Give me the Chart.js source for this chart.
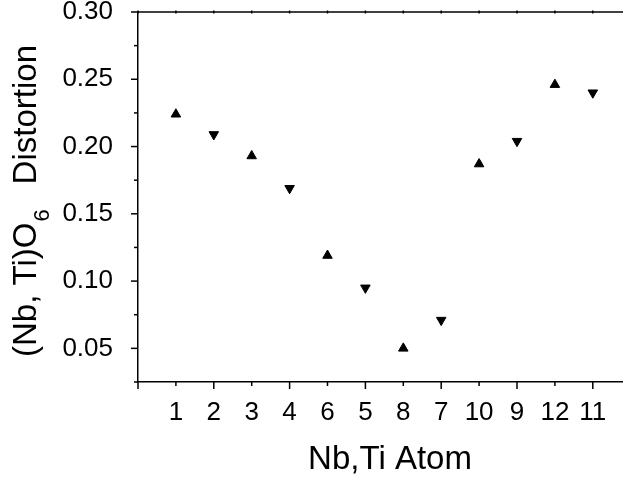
<!DOCTYPE html>
<html>
<head>
<meta charset="utf-8">
<script src="https://cdn.jsdelivr.net/npm/chart.js@4.4.1/dist/chart.umd.min.js"></script>
<style>
    html, body { margin: 0; padding: 0; background: #fff; overflow: hidden; }
    #wrap { width: 623px; height: 477px; overflow: hidden; }
</style>
</head>
<body>
<div id="wrap"><canvas id="distChart" width="630" height="477"></canvas></div>
<script>
// --- Data ---
const atomLabels = ["1", "2", "3", "4", "6", "5", "8", "7", "10", "9", "12", "11"];
const atomPositions = [1, 2, 3, 4, 5, 6, 7, 8, 9, 10, 11, 12];
const distortion = [0.224, 0.209, 0.193, 0.169, 0.119, 0.095, 0.050, 0.071, 0.187, 0.204, 0.246, 0.240];
const markerDir = ["up", "down", "up", "down", "up", "down", "up", "down", "up", "down", "up", "down"];

const yMin = 0.025;
const yMax = 0.30;
const yStep = 0.025;
const xMin = 0;
const xMax = 12.81;

const FONT = "'Liberation Sans', Arial, Helvetica, sans-serif";

// --- Custom drawing: tick marks of two lengths, top frame line, axis titles ---
const axisDecor = {
    id: "axisDecor",
    afterDraw(chart) {
        const ctx = chart.ctx;
        const xs = chart.scales.x;
        const ys = chart.scales.y;
        const area = chart.chartArea;
        ctx.save();
        ctx.strokeStyle = "#000";
        ctx.lineWidth = 1.5;

        // y ticks (major every 0.05, minor in between)
        ys.ticks.forEach((t) => {
            const py = ys.getPixelForValue(t.value);
            const major = Math.round(t.value * 1000) % 50 === 0;
            const len = major ? 7 : 4;
            ctx.beginPath();
            ctx.moveTo(area.left - len, py);
            ctx.lineTo(area.left, py);
            ctx.stroke();
        });

        // x ticks (long on even positions)
        xs.ticks.forEach((t) => {
            const px = xs.getPixelForValue(t.value);
            const len = t.value % 2 === 0 ? 7 : 4;
            ctx.beginPath();
            ctx.moveTo(px, area.bottom);
            ctx.lineTo(px, area.bottom + len);
            ctx.stroke();
            // tiny marks on the top line
            ctx.beginPath();
            ctx.moveTo(px, area.top - 1.5);
            ctx.lineTo(px, area.top + 1.5);
            ctx.stroke();
        });

        // top frame line
        ctx.beginPath();
        ctx.moveTo(area.left, area.top);
        ctx.lineTo(area.right, area.top);
        ctx.stroke();

        // x title
        ctx.fillStyle = "#000";
        ctx.font = "33px " + FONT;
        ctx.textAlign = "center";
        ctx.textBaseline = "alphabetic";
        ctx.fillText("Nb,Ti Atom", 390, 469);

        // y title with subscript
        ctx.translate(35.5, 0);
        ctx.rotate(-Math.PI / 2);
        ctx.textAlign = "left";
        ctx.font = "33px " + FONT;
        const w1 = ctx.measureText("(Nb, Ti)O").width;
        ctx.fillText("(Nb, Ti)O", -357, 0);
        ctx.font = "22px " + FONT;
        ctx.fillText("6", -357 + w1 + 1, 13);
        ctx.textAlign = "right";
        ctx.font = "33px " + FONT;
        ctx.fillText("Distortion", -45, 0);
        ctx.restore();
    },
};

// --- Chart ---
const ctx = document.getElementById("distChart").getContext("2d");
const distChart = new Chart(ctx, {
    type: "scatter",
    data: {
        datasets: [
            {
                label: "(Nb,Ti)O6 Distortion",
                data: atomPositions.map((x, i) => ({ x: x, y: distortion[i] })),
                pointStyle: "triangle",
                pointRadius: 5.5,
                pointHoverRadius: 5.5,
                pointBorderWidth: 1,
                pointBackgroundColor: "#000",
                pointBorderColor: "#000",
                pointRotation: (c) => (markerDir[c.dataIndex] === "down" ? 180 : 0),
                showLine: false,
            },
        ],
    },
    options: {
        responsive: false,
        animation: false,
        layout: { padding: { top: 12, right: 0, left: 0, bottom: 0 } },
        plugins: {
            legend: { display: false },
            tooltip: { enabled: false },
        },
        scales: {
            x: {
                type: "linear",
                min: xMin,
                max: xMax,
                grid: { display: false, drawTicks: false },
                border: { display: true, color: "#000", width: 1.5 },
                ticks: {
                    autoSkip: false,
                    maxRotation: 0,
                    padding: 15,
                    color: "#000",
                    font: { family: FONT, size: 26 },
                    callback: (v) => (v >= 1 ? atomLabels[v - 1] : ""),
                },
                afterBuildTicks: (scale) => {
                    scale.ticks = [0].concat(atomPositions).map((v) => ({ value: v }));
                },
                afterFit: (scale) => {
                    scale.height = 95;
                    scale.paddingLeft = 0;
                    scale.paddingRight = 0;
                },
            },
            y: {
                min: yMin,
                max: yMax,
                grid: { display: false, drawTicks: false },
                border: { display: true, color: "#000", width: 1.5 },
                ticks: {
                    stepSize: yStep,
                    autoSkip: false,
                    padding: 25,
                    color: "#000",
                    font: { family: FONT, size: 26 },
                    callback: (v) => (Math.round(v * 1000) % 50 === 0 ? v.toFixed(2) : ""),
                },
                afterFit: (scale) => {
                    scale.width = 138;
                    scale.paddingTop = 0;
                    scale.paddingBottom = 0;
                },
            },
        },
    },
    plugins: [axisDecor],
});
</script>
</body>
</html>
